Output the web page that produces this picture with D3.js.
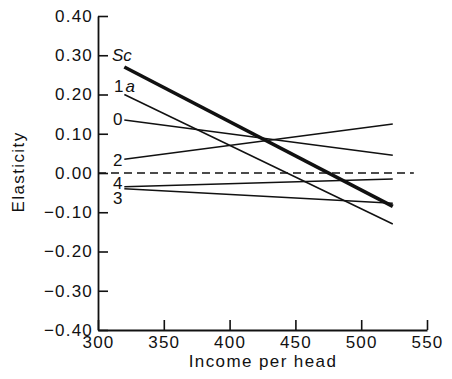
<!DOCTYPE html>
<html>
<head>
<meta charset="utf-8">
<script src="https://cdnjs.cloudflare.com/ajax/libs/d3/7.8.5/d3.min.js"></script>
<style>
  body { margin: 0; background: #fff; }
  svg text { font-family: "Liberation Sans", Arial, sans-serif; fill: #111; }
</style>
</head>
<body>
<div id="chart"></div>
<script>
// données
const incomeRange = [320, 524];          // début / fin de chaque droite
const seriesNames = ['Sc', '1a', '0', '2', '4', '3'];
const startValues = [0.27, 0.20, 0.135, 0.035, -0.035, -0.04];
const endValues   = [-0.085, -0.13, 0.045, 0.125, -0.015, -0.077];
const zeroLine    = [300, 540];
const xTicks = [300, 350, 400, 450, 500, 550];
const yTicks = [0.40, 0.30, 0.20, 0.10, 0.00, -0.10, -0.20, -0.30, -0.40];

const W = 452, H = 379;
const svg = d3.select('#chart').append('svg')
  .attr('width', W).attr('height', H);

const x = d3.scaleLinear().domain([300, 550]).range([98, 427]);
const y = d3.scaleLinear().domain([-0.4, 0.4]).range([330, 16]);

const fmt = d3.format('.2f');

// axes
const gy = svg.append('g')
  .attr('transform', `translate(${x(300)},0)`)
  .call(d3.axisLeft(y).tickValues(yTicks).tickFormat(fmt)
    .tickSizeInner(-10).tickSizeOuter(0).tickPadding(5));
const gx = svg.append('g')
  .attr('transform', `translate(0,${y(-0.4)})`)
  .call(d3.axisBottom(x).tickValues(xTicks).tickFormat(d3.format('d'))
    .tickSizeInner(-10).tickSizeOuter(0).tickPadding(6));

[gy, gx].forEach(g => {
  g.select('.domain').attr('stroke', '#111').attr('stroke-width', 1.8);
  g.selectAll('.tick line').attr('stroke', '#111').attr('stroke-width', 1.6);
  g.selectAll('.tick text')
    .attr('font-size', 17)
    .attr('letter-spacing', 1.2)
    .attr('fill', '#111');
});

// ligne zéro en tirets
svg.append('line')
  .attr('x1', x(zeroLine[0])).attr('x2', x(zeroLine[1]))
  .attr('y1', y(0)).attr('y2', y(0))
  .attr('stroke', '#111').attr('stroke-width', 1.5)
  .attr('stroke-dasharray', '8,5');

// droites des élasticités
const lines = seriesNames.map((name, i) => ({
  name,
  pts: [[incomeRange[0], startValues[i]], [incomeRange[1], endValues[i]]]
}));
const line = d3.line().x(d => x(d[0])).y(d => y(d[1]));

svg.append('g').selectAll('path')
  .data(lines)
  .enter().append('path')
  .attr('d', d => line(d.pts))
  .attr('fill', 'none')
  .attr('stroke', '#111')
  .attr('stroke-width', d => d.name === 'Sc' ? 3.6 : 1.5);

// étiquettes des courbes
const labelPos = {
  'Sc': [112, 61], '1a': [114, 92], '0': [113, 125],
  '2': [113, 166], '4': [113, 189], '3': [113, 204]
};
lines.forEach(d => {
  const [lx, ly] = labelPos[d.name];
  const t = svg.append('text')
    .attr('x', lx).attr('y', ly)
    .attr('font-size', 17);
  if (d.name === 'Sc') {
    t.attr('font-style', 'italic').text('Sc');
  } else if (d.name === '1a') {
    t.append('tspan').text('1');
    t.append('tspan').attr('font-style', 'italic').attr('dx', 2).text('a');
  } else {
    t.text(d.name);
  }
});

// titres des axes
svg.append('text')
  .attr('x', 263).attr('y', 367)
  .attr('text-anchor', 'middle')
  .attr('font-size', 17)
  .attr('letter-spacing', 1.4)
  .text('Income per head');

svg.append('text')
  .attr('transform', 'translate(24,172) rotate(-90)')
  .attr('text-anchor', 'middle')
  .attr('font-size', 17)
  .attr('letter-spacing', 1.4)
  .text('Elasticity');
</script>
</body>
</html>
